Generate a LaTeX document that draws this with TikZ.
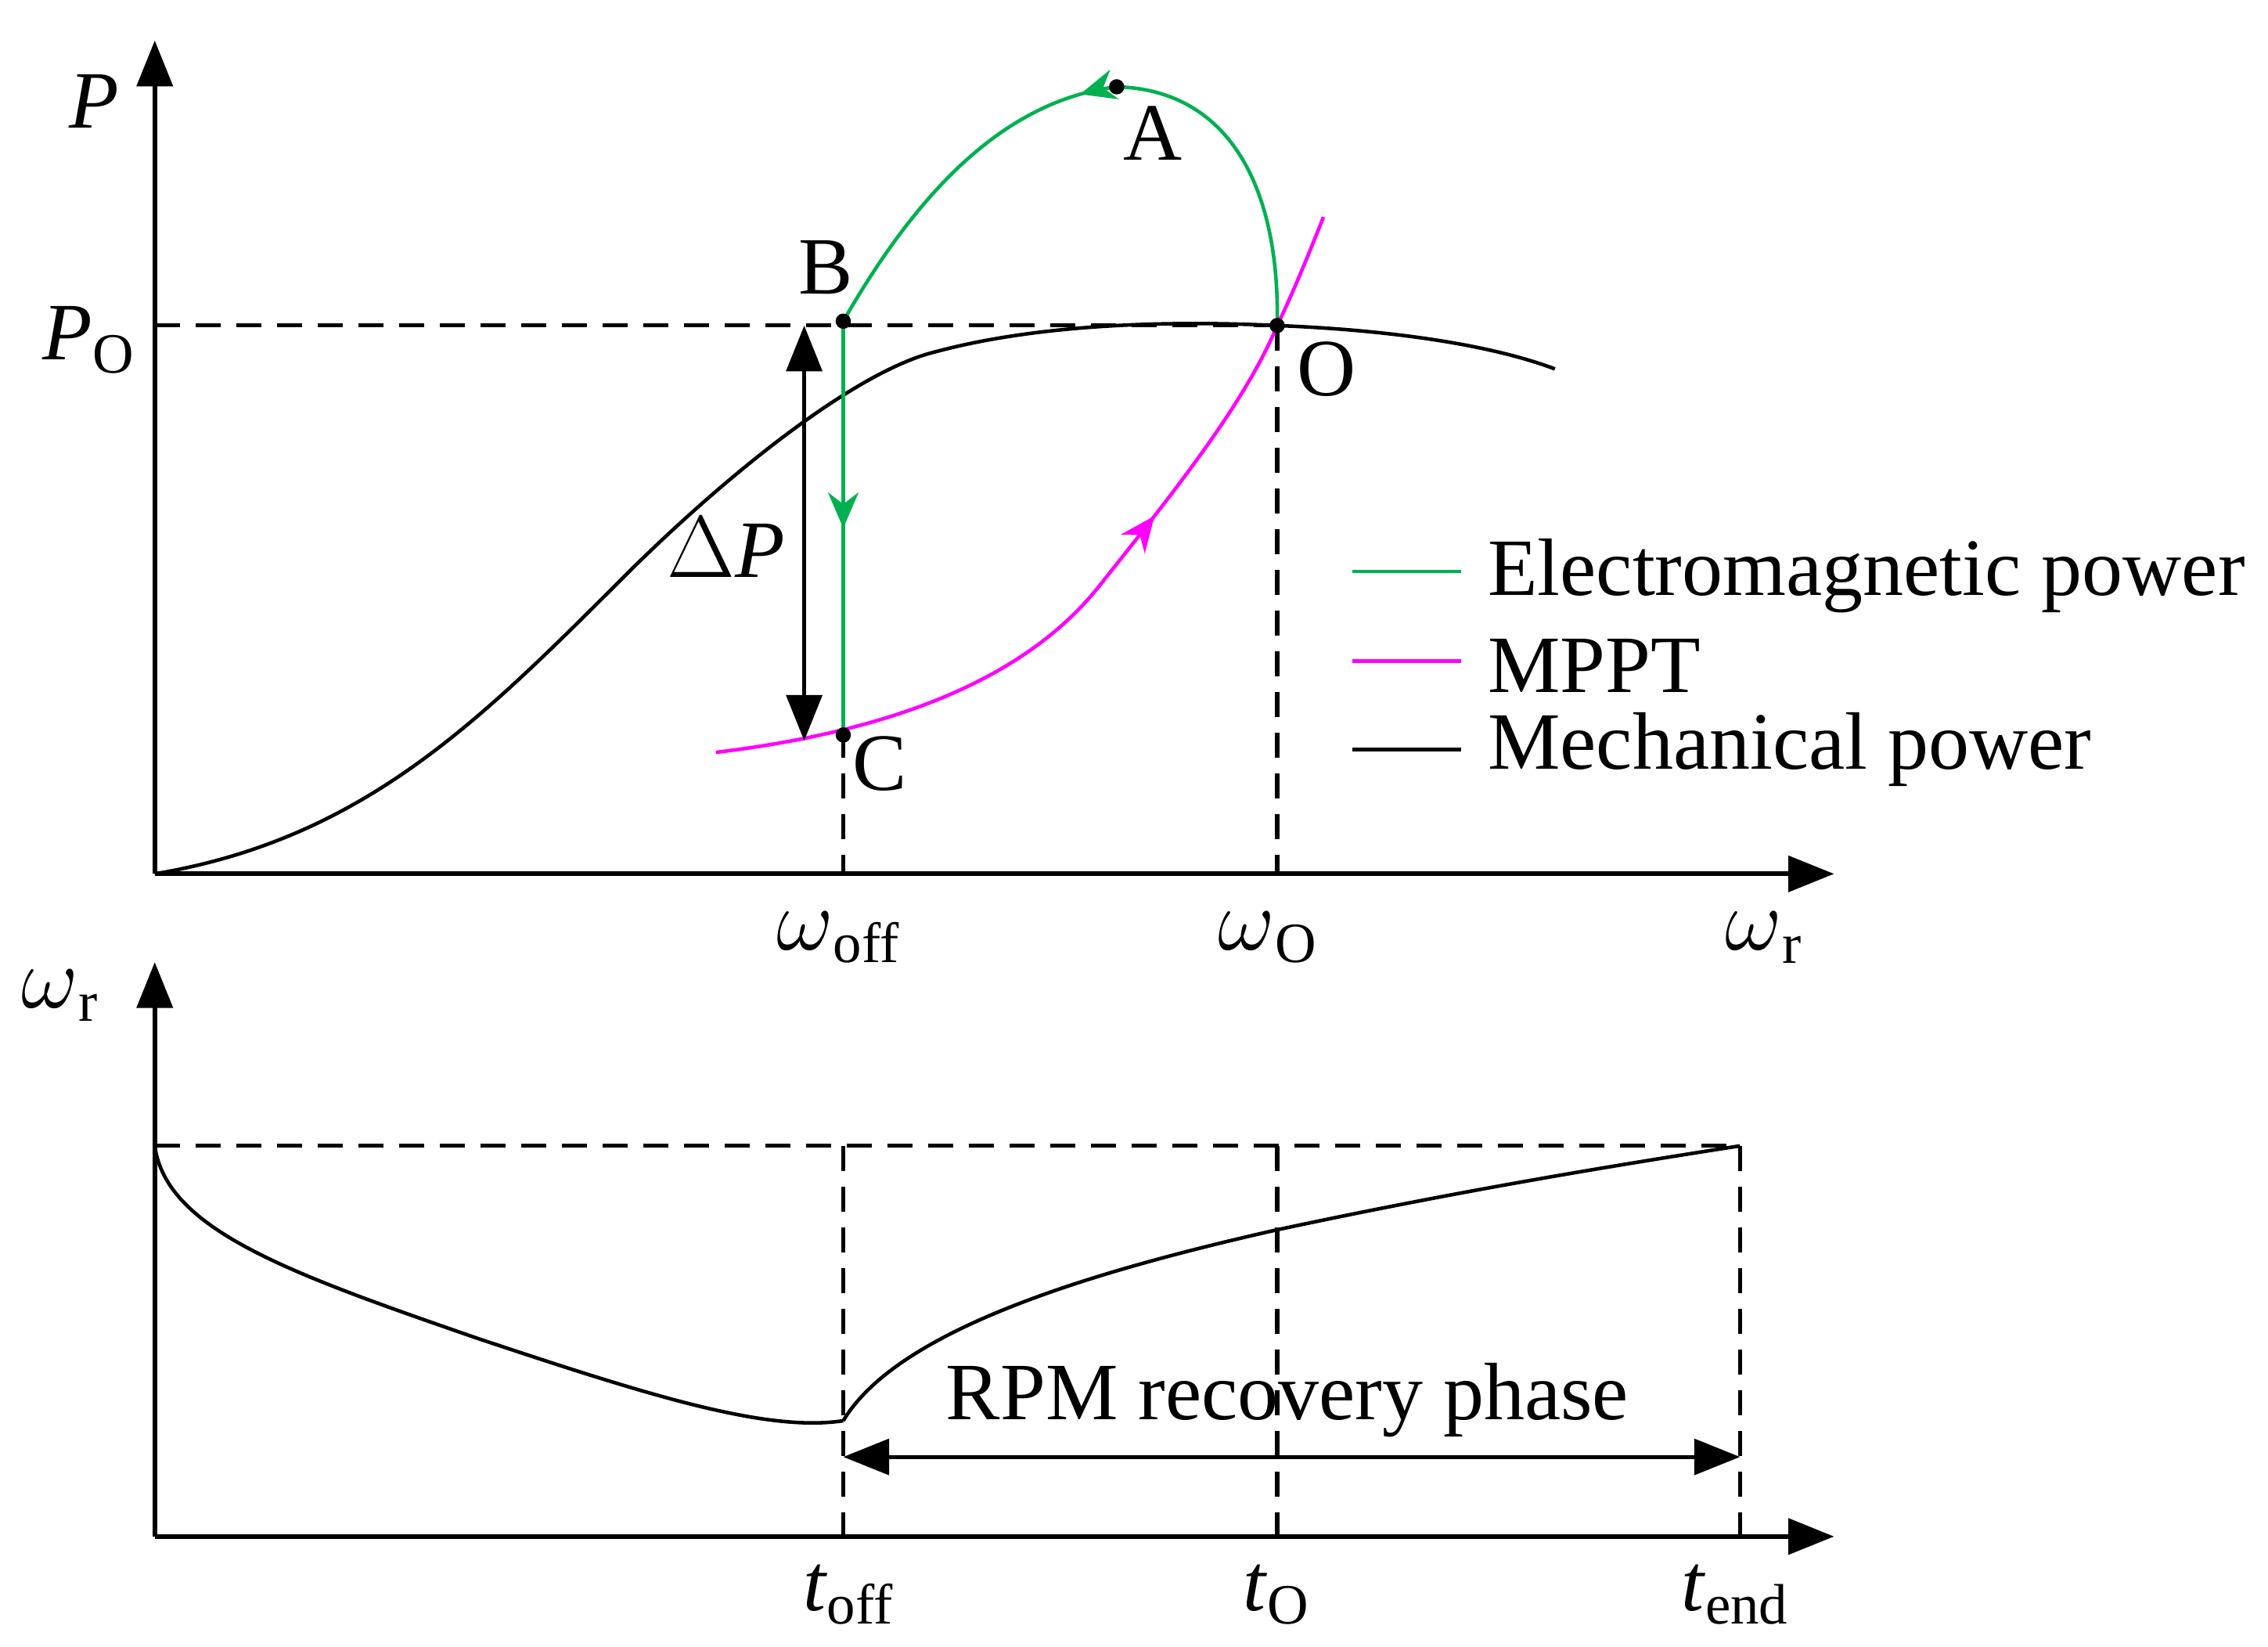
\documentclass[tikz,border=0pt]{standalone}
\usepackage{fontspec}
\setmainfont{Liberation Serif}
\usetikzlibrary{arrows.meta,decorations.markings}
\begin{document}
\begin{tikzpicture}[x=0.01cm,y=-0.01cm,
 ax/.style={line width=0.9pt,-{Triangle[length=9pt,width=7pt]}},
 dsh/.style={line width=0.8pt,dash pattern=on 5pt off 3pt},
 crv/.style={line width=0.7pt},
 lbl/.style={font=\fontsize{16}{18}\selectfont,inner sep=0pt},
 dotn/.style={circle,fill=black,inner sep=0pt,minimum size=3pt},
 arrmid/.style={postaction={decorate},decoration={markings,mark=at position #1 with {\arrow{Stealth[length=7pt,width=6pt]}}}}]
\useasboundingbox (0,0) rectangle (1568,1138);
\definecolor{eg}{RGB}{0,176,80}
\definecolor{mg}{RGB}{255,0,255}
% top axes
\coordinate (o1) at (107,604);
\coordinate (y1) at (107,28);
\coordinate (x1) at (1268,604);
\draw[ax] (o1) -- (y1);
\draw[ax] (o1) -- (x1);
\node[lbl,font=\fontsize{16}{18}\selectfont\itshape] (P) at (65,70) {P};
\node[lbl] (PO) at (62,235) {\textit{P}\textsubscript{O}};
\draw[dsh] (107,225) -- (883,225);
\draw[dsh] (583,225) -- (583,604);
\draw[dsh] (883,225) -- (883,604);
% mechanical
\draw[crv] (107,604) .. controls (250,580) and (330,500) .. (430,400) .. controls (500,330) and (585,262) .. (640,245) .. controls (720,222) and (820,222) .. (883,225) .. controls (960,228) and (1030,238) .. (1075,255);
% MPPT
\draw[crv,mg,arrmid=0.6] (495,520) .. controls (620,505) and (710,468) .. (760,405) .. controls (810,342) and (860,280) .. (883,225) .. controls (895,200) and (905,175) .. (915,150);
% green
\coordinate (A) at (772,60);
\coordinate (B) at (583,222);
\coordinate (C) at (583,508);
\coordinate (O) at (883,225);
\draw[crv,eg,arrmid=0.1] (A) .. controls (690,70) and (630,140) .. (B);
\draw[crv,eg] (A) .. controls (850,62) and (885,130) .. (O);
\draw[crv,eg,arrmid=0.5] (B) -- (C);
\draw[line width=0.8pt,{Triangle[length=9pt,width=7pt]}-{Triangle[length=9pt,width=7pt]}] (556,225) -- (556,512);
\node[dotn] (dA) at (A) {};
\node[dotn] (dB) at (B) {};
\node[dotn] (dC) at (C) {};
\node[dotn] (dO) at (O) {};
\node[lbl] (lA) at (797,92) {A};
\node[lbl] (lB) at (571,185) {B};
\node[lbl] (lC) at (608,528) {C};
\node[lbl] (lO) at (917,255) {O};
\node[lbl] (dP) at (502,378) {$\Delta$\textit{P}};
% legend
\draw[crv,eg] (935,395) -- (1010,395);
\draw[crv,mg] (935,457) -- (1010,457);
\draw[crv] (935,518) -- (1010,518);
\node[lbl,anchor=west] (L1) at (1028,398) {Electromagnetic power};
\node[lbl,anchor=west] (L2) at (1028,460) {MPPT};
\node[lbl,anchor=west] (L3) at (1028,518) {Mechanical power};
\node[lbl] (wo) at (580,648) {$\omega$\textsubscript{off}};
\node[lbl] (wO) at (877,648) {$\omega$\textsubscript{O}};
\node[lbl] (wr) at (1220,648) {$\omega$\textsubscript{r}};
% bottom
\draw[ax] (107,1062) -- (107,665);
\draw[ax] (107,1062) -- (1268,1062);
\node[lbl] (wr2) at (42,688) {$\omega$\textsubscript{r}};
\draw[dsh] (107,792) -- (1203,792);
\draw[dsh] (583,792) -- (583,1062);
\draw[dsh] (883,792) -- (883,1062);
\draw[dsh] (1203,792) -- (1203,1062);
\draw[crv] (107,792) .. controls (115,850) and (200,880) .. (330,925) .. controls (450,965) and (530,990) .. (583,982);
\draw[crv] (583,982) .. controls (620,920) and (750,880) .. (883,850) .. controls (1000,825) and (1100,808) .. (1203,792);
\draw[line width=0.8pt,{Triangle[length=9pt,width=7pt]}-{Triangle[length=9pt,width=7pt]}] (583,1007) -- (1203,1007);
\node[lbl] (rpm) at (890,968) {RPM recovery phase};
\node[lbl] (t1) at (587,1102) {\textit{t}\textsubscript{off}};
\node[lbl] (t2) at (883,1102) {\textit{t}\textsubscript{O}};
\node[lbl] (t3) at (1200,1102) {\textit{t}\textsubscript{end}};
\end{tikzpicture}
\end{document}
